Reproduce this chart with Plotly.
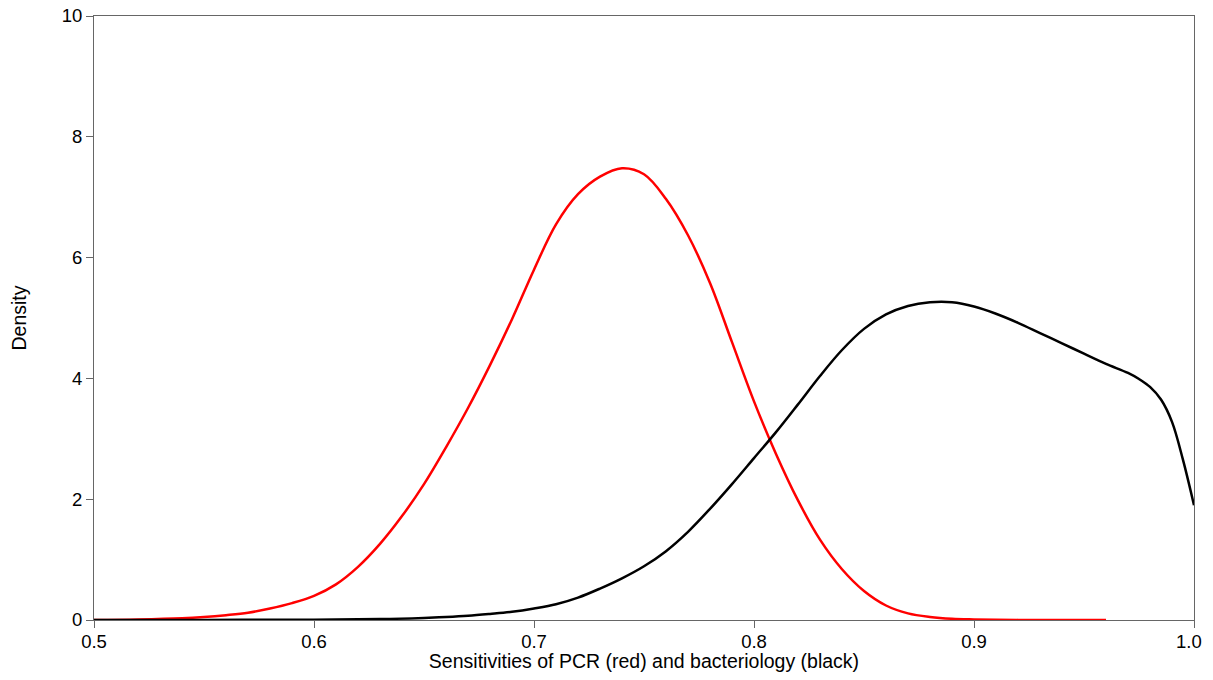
import plotly.graph_objects as go

# PCR (red) density
pcr_x = [0.50, 0.52, 0.54, 0.55, 0.56, 0.57, 0.58, 0.59, 0.60, 0.61, 0.62, 0.63, 0.64, 0.65,
         0.66, 0.67, 0.68, 0.69, 0.70, 0.71, 0.72, 0.73, 0.74, 0.75, 0.76, 0.77, 0.78, 0.79,
         0.80, 0.81, 0.82, 0.83, 0.84, 0.85, 0.86, 0.87, 0.88, 0.89, 0.90, 0.92, 0.96]
pcr_y = [0.0, 0.01, 0.03, 0.05, 0.08, 0.12, 0.19, 0.28, 0.40, 0.59, 0.88, 1.26, 1.72, 2.25,
         2.86, 3.51, 4.22, 4.98, 5.80, 6.55, 7.05, 7.34, 7.48, 7.38, 6.97, 6.37, 5.58, 4.60,
         3.62, 2.75, 1.98, 1.33, 0.84, 0.48, 0.24, 0.11, 0.05, 0.02, 0.01, 0.002, 0.0]

# Bacteriology (black) density
bac_x = [0.50, 0.55, 0.60, 0.63, 0.65, 0.66, 0.67, 0.68, 0.69, 0.70, 0.71, 0.72, 0.73, 0.74,
         0.75, 0.76, 0.77, 0.78, 0.79, 0.80, 0.81, 0.82, 0.83, 0.84, 0.85, 0.86, 0.87, 0.88,
         0.89, 0.90, 0.91, 0.92, 0.93, 0.94, 0.95, 0.96, 0.97, 0.975, 0.98, 0.985, 0.99,
         0.995, 1.00]
bac_y = [0.0, 0.002, 0.006, 0.015, 0.035, 0.05, 0.07, 0.10, 0.135, 0.19, 0.26, 0.37, 0.52,
         0.69, 0.89, 1.14, 1.46, 1.84, 2.25, 2.68, 3.11, 3.57, 4.04, 4.47, 4.82, 5.06, 5.20,
         5.26, 5.26, 5.19, 5.07, 4.92, 4.75, 4.58, 4.41, 4.24, 4.09, 3.99, 3.86, 3.65, 3.28,
         2.65, 1.9]

x_ticks = [0.5, 0.6, 0.7, 0.8, 0.9, 1.0]
x_ticktext = ["0.5", "0.6", "0.7", "0.8", "0.9", "1.0\u00a0\u00a0"]
y_ticks = [0, 2, 4, 6, 8, 10]

FONT = "Liberation Sans, Arial, sans-serif"

fig = go.Figure()
fig.add_trace(go.Scatter(x=pcr_x, y=pcr_y, mode="lines",
                         line=dict(color="#ff0000", width=2.5, shape="spline", smoothing=1),
                         name="PCR"))
fig.add_trace(go.Scatter(x=bac_x, y=bac_y, mode="lines",
                         line=dict(color="#000000", width=2.5, shape="spline", smoothing=1),
                         name="Bacteriology"))

axis_common = dict(showline=True, linecolor="#666666", linewidth=1, mirror=True,
                   ticks="outside", ticklen=7, tickcolor="#666666", showgrid=False,
                   zeroline=False, automargin=False, ticklabeloverflow="allow",
                   tickfont=dict(family=FONT, size=18.5, color="#000000"))

# page has an 8px body margin, so the figure is offset by 8px
fig.update_layout(
    width=1197, height=664,
    margin=dict(l=86, r=11, t=8, b=52, autoexpand=False),
    paper_bgcolor="white", plot_bgcolor="white",
    showlegend=False,
    font=dict(family=FONT, color="#000000"),
    xaxis=dict(range=[0.5, 1.0], tickvals=x_ticks, ticktext=x_ticktext,
               ticklabelstandoff=-2,
               title=dict(text="Sensitivities of PCR (red) and bacteriology (black)",
                          font=dict(size=19.5), standoff=3),
               **axis_common),
    yaxis=dict(range=[0, 10], tickvals=y_ticks, ticktext=[str(v) for v in y_ticks],
               title=dict(text="Density", font=dict(size=19.5), standoff=32),
               **axis_common),
)

fig.write_html("out.html")
